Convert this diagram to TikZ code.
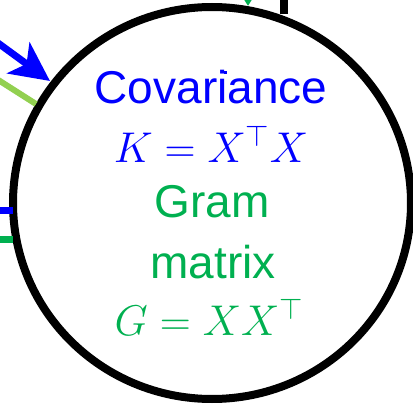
\RequirePackage{fix-cm}
\documentclass[tikz,border=0pt]{standalone}
\usepackage{fontspec}
\setmainfont{Liberation Sans}
\usetikzlibrary{arrows.meta,shapes.geometric}
\definecolor{pblue}{HTML}{0000FF}
\definecolor{pgreen}{HTML}{00B050}
\definecolor{lgreen}{HTML}{92D050}
\DeclareMathSizes{46}{46}{32}{23}
\DeclareMathSizes{43}{43}{30}{22}
\tikzset{
  txt/.style={anchor=base, inner sep=0pt, font=\fontsize{46}{58}\selectfont},
  mtxt/.style={anchor=base, inner sep=0pt, font=\fontsize{43}{58}\selectfont},
  stub/.style={line width=7pt, line cap=butt},
}
\begin{document}
\begin{tikzpicture}[x=1pt,y=-1pt]
\useasboundingbox (0,0) rectangle (413,404);
\clip (0,0) rectangle (413,404);
% main circle
\node[draw, line width=8pt, ellipse, minimum width=398pt, minimum height=392pt, inner sep=0pt] (c) at (212,203) {};
% incoming connectors (free ends outside)
\coordinate (b0) at (-30,22.6);
\coordinate (b1) at (50,81);
\draw[pblue, line width=7pt, -{Stealth[length=39pt,width=38pt,inset=10pt]}] (b0) -- (b1);
\coordinate (g0) at (-30,62);
\coordinate (g1) at (36,104);
\draw[lgreen, line width=6pt] (g0) -- (g1);
\coordinate (s0) at (-5,210.5);
\coordinate (s1) at (13,210.5);
\draw[pblue, stub] (s0) -- (s1);
\coordinate (t0) at (-5,239.5);
\coordinate (t1) at (13,239.5);
\draw[pgreen, stub] (t0) -- (t1);
\coordinate (k0) at (284,-10);
\coordinate (k1) at (284,14);
\draw[black, line width=8pt] (k0) -- (k1);
\coordinate (a0) at (248,-40);
\coordinate (a1) at (248,6);
\draw[pgreen, line width=6pt, -{Triangle[length=20pt,width=24pt]}] (a0) -- (a1);
\fill[pblue] (223.5,71.5) rectangle (226.5,74.5);
% texts
\node[txt, text=pblue] (cov) at (211,103) {Covariance};
\node[mtxt, text=pblue] (keq) at (211,162) {$K = X^{\top}X$};
\node[txt, text=pgreen] (gram) at (212,218) {Gram};
\node[txt, text=pgreen] (mat) at (213,278) {matrix};
\node[mtxt, text=pgreen] (geq) at (209,335) {$G = XX^{\top}$};
\end{tikzpicture}
\end{document}
